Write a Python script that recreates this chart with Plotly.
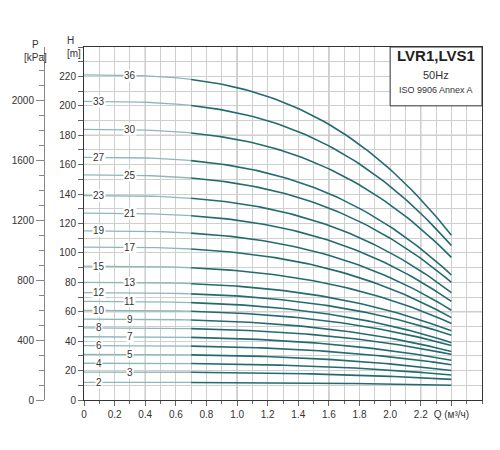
import numpy as np
import plotly.graph_objects as go

stages = [36, 33, 30, 27, 25, 23, 21, 19, 17, 15, 13, 12, 11, 10, 9, 8, 7, 6, 5, 4, 3, 2]
h_shutoff = [221, 203, 184, 165, 153, 139, 127, 115, 104, 91, 80, 73, 67, 61, 55, 49, 43, 37, 31, 25, 19, 12]
h_end = [112, 105, 97, 85, 80, 73, 67, 61, 56, 52, 47, 44, 39, 37, 33, 31, 27, 24, 20, 17, 14, 10]
label_q = [0.3, 0.1, 0.3, 0.1, 0.3, 0.1, 0.3, 0.1, 0.3, 0.1, 0.3, 0.1, 0.3, 0.1, 0.3, 0.1, 0.3, 0.1, 0.3, 0.1, 0.3, 0.1]
q_max = 2.4
q_split = 0.7
x_ticks = [0, 0.2, 0.4, 0.6, 0.8, 1.0, 1.2, 1.4, 1.6, 1.8, 2.0, 2.2, 2.4]
x_ticktext = ["0", "0.2", "0.4", "0.6", "0.8", "1.0", "1.2", "1.4", "1.6", "1.8", "2.0", "2.2", "Q (м³/ч)"]
h_ticks = list(range(0, 221, 20))
p_ticks = list(range(0, 2001, 400))

def curve(h0, he, q):
    return h0 - (h0 - he) * (q / q_max) ** 2.9

fig = go.Figure()
for s, h0, he, lq in zip(stages, h_shutoff, h_end, label_q):
    q1 = np.linspace(0, q_split, 20)
    q2 = np.linspace(q_split, q_max, 60)
    fig.add_trace(go.Scatter(x=q1, y=curve(h0, he, q1), mode="lines",
                             line=dict(color="#8db7b9", width=1.3), hoverinfo="skip", showlegend=False))
    fig.add_trace(go.Scatter(x=q2, y=curve(h0, he, q2), mode="lines",
                             line=dict(color="#246b70", width=1.6), hoverinfo="skip", showlegend=False))
    fig.add_annotation(x=lq, y=curve(h0, he, lq), text=str(s), showarrow=False,
                       bgcolor="white", font=dict(size=10, color="#333"), borderpad=0)

fig.add_trace(go.Scatter(x=[0], y=[0], yaxis="y2", mode="markers", marker=dict(opacity=0),
                         hoverinfo="skip", showlegend=False))

for xv in [0.4, 1.0, 1.6, 2.2]:
    fig.add_shape(type="line", x0=xv, x1=xv, y0=0, y1=240, line=dict(color="#999", width=1), layer="below")
for yv in [60, 120, 180]:
    fig.add_shape(type="line", x0=0, x1=2.6, y0=yv, y1=yv, line=dict(color="#999", width=1), layer="below")

fig.add_shape(type="rect", x0=2.0, x1=2.6, y0=200, y1=240, fillcolor="white",
              line=dict(color="#333", width=1))
fig.add_annotation(x=2.3, y=234, text="<b>LVR1,LVS1</b>", showarrow=False, font=dict(size=15, color="#222"))
fig.add_annotation(x=2.3, y=221, text="50Hz", showarrow=False, font=dict(size=11, color="#333"))
fig.add_annotation(x=2.3, y=211, text="ISO 9906 Annex A", showarrow=False, font=dict(size=9, color="#333"))

fig.add_annotation(xref="paper", yref="paper", x=57/474, y=1.0, yshift=14, text="H<br>[m]",
                   showarrow=False, font=dict(size=10, color="#333"), align="left")
fig.add_annotation(xref="paper", yref="paper", x=14/474, y=1.0, yshift=10, text="P<br>[kPa]",
                   showarrow=False, font=dict(size=10, color="#333"))

fig.update_layout(
    width=500, height=450, margin=dict(l=0, r=26, t=39, b=58),
    plot_bgcolor="white", paper_bgcolor="white",
    font=dict(family="Liberation Sans, Arial", size=10, color="#333"),
    xaxis=dict(domain=[76/474, 1], range=[0, 2.6], tickvals=x_ticks, ticktext=x_ticktext,
               showgrid=True, gridcolor="#cfcfcf", ticks="outside", ticklen=5, tickcolor="#666",
               minor=dict(dtick=0.1, showgrid=True, gridcolor="#cfcfcf", ticks="outside", ticklen=3),
               showline=True, linecolor="#333", mirror=True, zeroline=False, automargin=False),
    yaxis=dict(range=[0, 240], tickvals=h_ticks, showgrid=True, gridcolor="#cfcfcf",
               ticks="outside", ticklen=5, tickcolor="#666", automargin=False,
               minor=dict(dtick=10, showgrid=True, gridcolor="#cfcfcf", ticks="outside", ticklen=5),
               showline=True, linecolor="#333", mirror=True, zeroline=False),
    yaxis2=dict(range=[0, 240 * 9.81], tickvals=p_ticks, overlaying="y", anchor="free",
                position=36/474, side="left", showgrid=False, ticks="outside", ticklen=8,
                tickcolor="#888", automargin=False,
                minor=dict(dtick=100, ticks="outside", ticklen=5, tickcolor="#888"),
                showline=True, linecolor="#888", zeroline=False),
)
fig.write_html("out.html")
